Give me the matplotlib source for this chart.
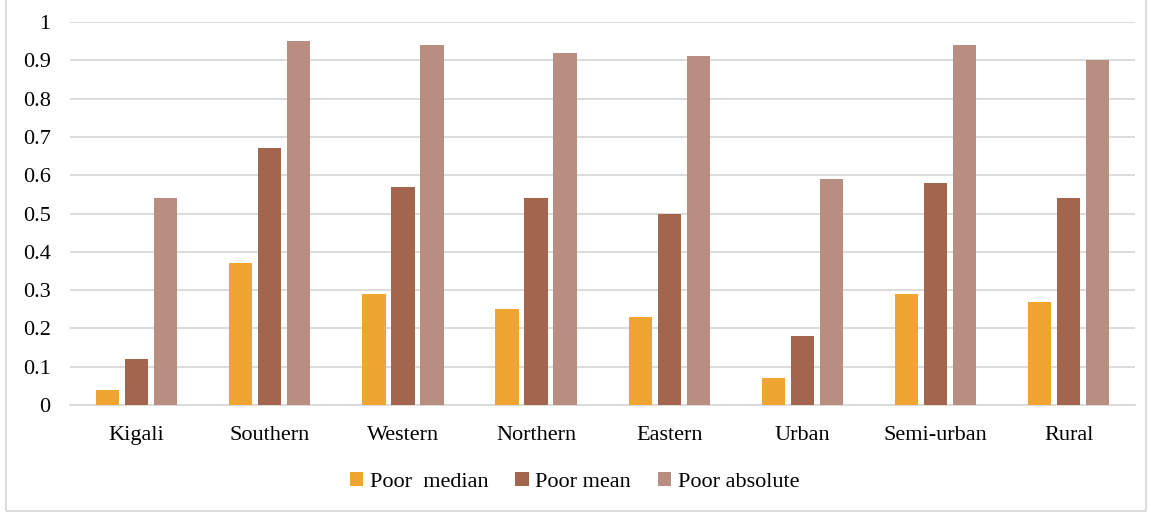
import numpy as np
import matplotlib.pyplot as plt
from matplotlib.patches import Rectangle

# data
categories = ['Kigali', 'Southern', 'Western', 'Northern', 'Eastern', 'Urban', 'Semi-urban', 'Rural']
poor_median = [0.04, 0.37, 0.29, 0.25, 0.23, 0.07, 0.29, 0.27]
poor_mean = [0.12, 0.67, 0.57, 0.54, 0.50, 0.18, 0.58, 0.54]
poor_absolute = [0.54, 0.95, 0.94, 0.92, 0.91, 0.59, 0.94, 0.90]
series_names = ['Poor  median', 'Poor mean', 'Poor absolute']
colors = ['#F0A431', '#A4654E', '#B88E80']

plt.rcParams['font.family'] = ['Liberation Serif', 'DejaVu Serif']

fig = plt.figure(figsize=(11.49, 5.12), dpi=100)
ax = fig.add_axes([0.061, 0.209, 0.927, 0.748])

x = np.arange(len(categories))
width = 0.175
step = 0.218
for i, (vals, name, c) in enumerate(zip([poor_median, poor_mean, poor_absolute], series_names, colors)):
    ax.bar(x + (i - 1) * step, vals, width=width, color=c, label=name, zorder=3)

ax.set_xlim(-0.5, len(categories) - 0.5)
ax.set_ylim(0, 1)
ax.set_yticks(np.arange(0, 1.01, 0.1))
ax.set_yticklabels(['0'] + ['%.1f' % v for v in np.arange(0.1, 0.95, 0.1)] + ['1'])
ax.set_xticks(x)
ax.set_xticklabels(categories)
ax.tick_params(axis='both', length=0, labelsize=16)
ax.tick_params(axis='y', pad=14)
ax.tick_params(axis='x', pad=15)
ax.grid(axis='y', color='#D9D9D9', linewidth=1.3, zorder=0)
for s in ['top', 'right', 'left']:
    ax.spines[s].set_visible(False)
ax.spines['bottom'].set_color('#D9D9D9')
ax.spines['bottom'].set_linewidth(1.3)

fig.legend(loc='center', bbox_to_anchor=(0.5, 0.058), ncol=3, frameon=False,
           fontsize=16, handlelength=0.6, handleheight=0.6, handletextpad=0.3,
           columnspacing=1.2)

# light grey border of the chart area
fig.patches.append(Rectangle((0.005, 0.002), 0.992, 1.1, transform=fig.transFigure,
                             fill=False, edgecolor='#D9D9D9', linewidth=1.3))

fig.savefig('out.png', dpi=100)
